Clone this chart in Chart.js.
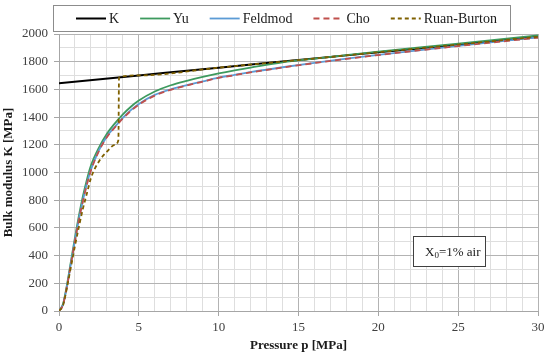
<!DOCTYPE html>
<html lang="en">
<head>
    <meta charset="UTF-8">
    <title>Bulk modulus vs pressure</title>
    <script src="https://cdn.jsdelivr.net/npm/chart.js"></script>
    <style>
        html, body { margin: 0; padding: 0; background: #fff; }
        #wrap { width: 550px; height: 361px; }
    </style>
</head>
<body>
<div id="wrap"><canvas id="myChart" width="550" height="361"></canvas></div>
<script>
    // values (pressure in MPa, K in MPa)
    const kP = [0, 5, 10, 15, 20, 25, 30];
    const kK = [1645, 1701, 1757, 1812, 1868, 1924, 1980];

    const curveP = [0, 0.25, 0.5, 0.75, 1, 1.25, 1.5, 1.75, 2, 2.5, 3, 3.5, 4, 4.5, 5, 6, 7, 8, 9, 10, 11, 12, 14, 16, 18, 20, 25, 30];
    const yuK    = [0, 50, 190, 360, 530, 690, 830, 950, 1050, 1180, 1280, 1355, 1420, 1475, 1520, 1585, 1630, 1662, 1690, 1715, 1737, 1757, 1795, 1822, 1848, 1873, 1930, 1990];
    const feldK  = [0, 45, 180, 345, 510, 665, 800, 920, 1020, 1160, 1260, 1330, 1395, 1450, 1495, 1560, 1600, 1630, 1658, 1685, 1705, 1725, 1760, 1792, 1822, 1850, 1915, 1975];
    const choK   = [0, 45, 178, 340, 505, 660, 795, 915, 1015, 1155, 1255, 1325, 1390, 1445, 1490, 1555, 1597, 1628, 1656, 1683, 1703, 1723, 1758, 1790, 1820, 1848, 1913, 1973];

    const ruanP = [0, 0.25, 0.5, 0.75, 1, 1.25, 1.5, 1.75, 2, 2.5, 3, 3.5, 3.72, 3.76, 5, 10, 15, 20, 25, 30];
    const ruanK = [0, 40, 170, 320, 470, 610, 740, 850, 960, 1080, 1150, 1200, 1235, 1687, 1701, 1757, 1812, 1868, 1924, 1980];

    const xMax = 30, yMax = 2000;

    function pts(px, py) { return px.map((p, i) => ({ x: p, y: py[i] })); }

    const serif = "'Liberation Serif', 'DejaVu Serif', serif";

    // boxed legend at the top, drawn from the datasets
    const boxLegend = {
        id: 'boxLegend',
        afterDraw(chart) {
            const ctx = chart.ctx;
            ctx.save();
            ctx.strokeStyle = '#8c8c8c';
            ctx.lineWidth = 1;
            ctx.strokeRect(53.5, 5.5, 457, 26);
            ctx.font = '14px ' + serif;
            ctx.textBaseline = 'middle';
            ctx.fillStyle = '#1a1a1a';
            let x = 76;
            const y = 18.5;
            chart.data.datasets.forEach(ds => {
                ctx.beginPath();
                ctx.setLineDash(ds.borderDash || []);
                ctx.strokeStyle = ds.borderColor;
                ctx.lineWidth = ds.borderWidth;
                ctx.moveTo(x, y);
                ctx.lineTo(x + 30, y);
                ctx.stroke();
                ctx.setLineDash([]);
                ctx.fillText(ds.label, x + 33, y + 1);
                x += 33 + ctx.measureText(ds.label).width + 21;
            });
            ctx.restore();
        }
    };

    // "X0=1% air" note inside the plot
    const airNote = {
        id: 'airNote',
        afterDraw(chart) {
            const ctx = chart.ctx;
            ctx.save();
            ctx.fillStyle = '#fff';
            ctx.fillRect(413, 236, 72, 30);
            ctx.strokeStyle = '#404040';
            ctx.lineWidth = 1;
            ctx.strokeRect(413.5, 236.5, 72, 30);
            ctx.fillStyle = '#1a1a1a';
            ctx.textBaseline = 'alphabetic';
            ctx.font = '13px ' + serif;
            let x = 425;
            const y = 256;
            ctx.fillText('X', x, y);
            x += ctx.measureText('X').width;
            ctx.font = '9px ' + serif;
            ctx.fillText('0', x, y + 2);
            x += ctx.measureText('0').width;
            ctx.font = '13px ' + serif;
            ctx.fillText('=1% air', x, y);
            ctx.restore();
        }
    };

    const ctx = document.getElementById('myChart').getContext('2d');

    new Chart(ctx, {
        type: 'line',
        data: {
            datasets: [
                { label: 'K', data: pts(kP, kK), borderColor: '#000000', borderWidth: 2, order: 4 },
                { label: 'Yu', data: pts(curveP, yuK), borderColor: '#3d9a5e', borderWidth: 1.8, order: 3 },
                { label: 'Feldmod', data: pts(curveP, feldK), borderColor: '#5b9bd5', borderWidth: 1.8, order: 2 },
                { label: 'Cho', data: pts(curveP, choK), borderColor: '#c0504d', borderWidth: 1.8, borderDash: [6, 4], order: 1 },
                { label: 'Ruan-Burton', data: pts(ruanP, ruanK), borderColor: '#7f6000', borderWidth: 1.8, borderDash: [4, 3], order: 0 }
            ]
        },
        options: {
            responsive: false,
            animation: false,
            parsing: true,
            elements: {
                point: { radius: 0 },
                line: { cubicInterpolationMode: 'monotone', fill: false }
            },
            layout: { padding: { top: 34, right: 12, left: 0, bottom: 0 } },
            scales: {
                x: {
                    type: 'linear',
                    min: 0,
                    max: xMax,
                    afterFit: s => { s.height = 50; },
                    ticks: {
                        stepSize: 1,
                        autoSkip: false,
                        maxRotation: 0,
                        padding: 4,
                        color: '#404040',
                        font: { family: serif, size: 13 },
                        callback: v => (v % 5 === 0 ? v : '')
                    },
                    grid: {
                        color: c => (c.tick && c.tick.value % 5 === 0 ? '#b3b3b3' : '#dedede'),
                        tickColor: c => (c.tick && c.tick.value % 5 === 0 ? '#a6a6a6' : 'rgba(0,0,0,0)'),
                        tickLength: 5
                    },
                    border: { color: '#a6a6a6' },
                    title: {
                        display: true,
                        text: 'Pressure p [MPa]',
                        color: '#1a1a1a',
                        font: { family: serif, size: 13, weight: 'bold' },
                        padding: { top: 0, bottom: 8 }
                    }
                },
                y: {
                    min: 0,
                    max: yMax,
                    afterFit: s => { s.width = 59; },
                    ticks: {
                        stepSize: 100,
                        autoSkip: false,
                        padding: 6,
                        color: '#404040',
                        font: { family: serif, size: 13 },
                        callback: v => (v % 200 === 0 ? v : '')
                    },
                    grid: {
                        color: c => (c.tick && c.tick.value % 200 === 0 ? '#b3b3b3' : '#dedede'),
                        tickColor: c => (c.tick && c.tick.value % 200 === 0 ? '#a6a6a6' : 'rgba(0,0,0,0)'),
                        tickLength: 5
                    },
                    border: { color: '#a6a6a6' },
                    title: {
                        display: true,
                        text: 'Bulk modulus K [MPa]',
                        color: '#1a1a1a',
                        font: { family: serif, size: 13, weight: 'bold' },
                        padding: { top: 1, bottom: 0 }
                    }
                }
            },
            plugins: {
                legend: { display: false },
                tooltip: { enabled: false }
            }
        },
        plugins: [boxLegend, airNote]
    });
</script>
</body>
</html>
